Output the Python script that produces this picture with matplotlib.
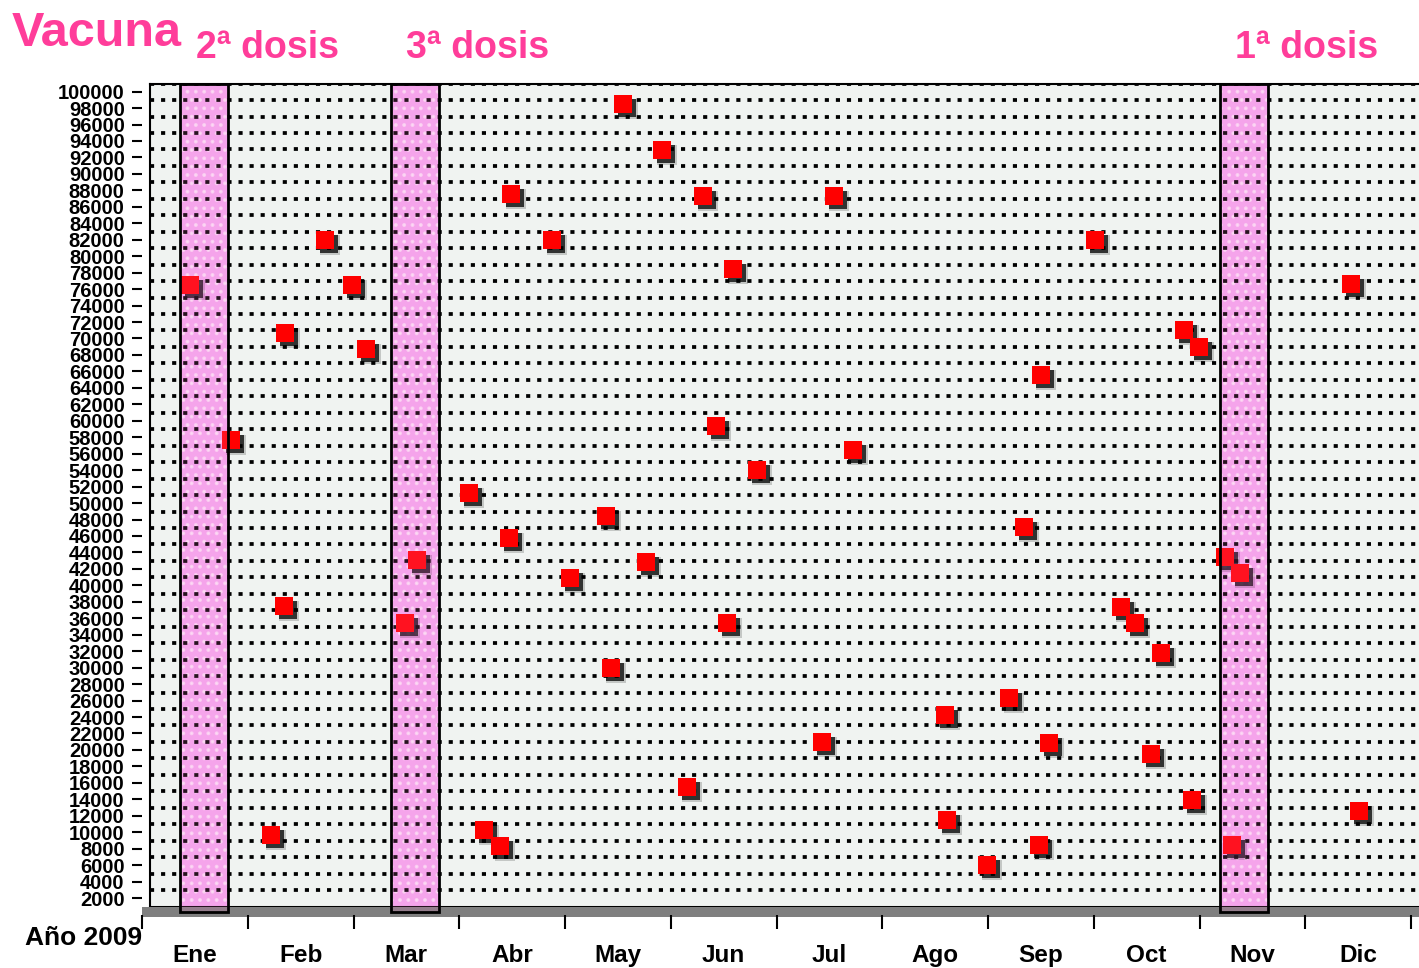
import matplotlib.pyplot as plt
import matplotlib.transforms as mtransforms
from matplotlib.patches import Rectangle

# datos
meses = ['Ene', 'Feb', 'Mar', 'Abr', 'May', 'Jun',
         'Jul', 'Ago', 'Sep', 'Oct', 'Nov', 'Dic']
dosis_nombres = ['2ª dosis', '3ª dosis', '1ª dosis']
dosis_mes = [0.51, 2.49, 10.29]      # momento de cada dosis (meses desde el 1 de enero)

x_mes = [0.38, 0.76, 1.27, 1.65, 1.90, 2.03, 1.26, 1.14, 2.51, 2.40,
         3.00, 3.40, 3.38, 3.14, 3.29, 3.78, 3.95, 4.29, 4.45, 4.67,
         4.34, 4.82, 5.20, 5.48, 5.32, 5.71, 5.43, 5.05, 6.43, 6.61,
         6.32, 7.48, 7.50, 7.87, 8.08, 8.22, 8.38, 8.46, 8.36, 8.89,
         9.13, 9.27, 9.51, 9.42, 9.73, 9.87, 9.80, 10.11, 10.25, 10.18,
         11.30, 11.37]
valores = [75500, 56700, 69700, 81000, 75500, 67700, 36500, 8700, 42100, 34400,
           50200, 86600, 44800, 9300, 7400, 81000, 39900, 47400, 97500, 41900,
           29000, 91900, 86400, 77500, 58400, 53000, 34400, 14500, 86400, 55500,
           20000, 23300, 10500, 5000, 25300, 46100, 64600, 19900, 7500, 81000,
           36400, 34400, 30800, 18500, 70000, 68000, 12900, 42500, 40500, 7500,
           75600, 11600]

yticks = list(range(2000, 100001, 2000))

rosa = '#ff3d9a'
W, H = 1419, 968
fig = plt.figure(figsize=(W / 100, H / 100), dpi=100)
fig.patch.set_facecolor('white')

# pared del fondo (ejes principales)
x0, x1, yb, yt = 150, 1419, 906.5, 83.6
pos = [x0 / W, 1 - yb / H, (x1 - x0) / W, (yb - yt) / H]
ax = fig.add_axes(pos)
ax.set_facecolor('#f0f3f1')
ax.set_xlim(0, (x1 - x0) / 106.3)
ax.set_ylim(0, 100000)
ax.set_yticks(yticks)
ax.set_xticks([])
ax.tick_params(left=False, labelleft=False, bottom=False, labelbottom=False)
ax.set_axisbelow(False)
ax.grid(axis='y', color='black', linewidth=2.7, linestyle=(0, (1.1, 1.85)))
ax.spines['right'].set_visible(False)
ax.spines['top'].set_linewidth(1.5)
ax.spines['left'].set_linewidth(1.5)
ax.spines['bottom'].set_linewidth(2.2)

# suelo gris
ax.add_patch(Rectangle((-8 / (x1 - x0), -10.5 / (yb - yt)), 1 + 8 / (x1 - x0), 10.5 / (yb - yt),
                       transform=ax.transAxes, facecolor='#7f7f7f', edgecolor='none',
                       clip_on=False, zorder=2.6))

# bandas de las dosis
ancho = 0.455
base = -700
alto = 100000 - base
plt.rcParams['hatch.linewidth'] = 1.6
ax.bar(dosis_mes, alto, bottom=base, width=ancho, color='#f4aef2', edgecolor='none',
       zorder=1, clip_on=False)
ax.bar(dosis_mes, alto, bottom=base, width=ancho, color='none',
       edgecolor=(1, 1, 1, 0.6), hatch='..', linewidth=0, zorder=1.1, clip_on=False)

# puntos con sombra
sombra = mtransforms.offset_copy(ax.transData, fig=fig, x=4, y=-4, units='dots')
sombra2 = mtransforms.offset_copy(ax.transData, fig=fig, x=5, y=-5, units='dots')
ax.plot(x_mes, valores, 's', ms=14.5, mew=0, color='black', alpha=0.18,
        transform=sombra2, zorder=2.8)
ax.plot(x_mes, valores, 's', ms=13, mew=0, color='black', alpha=0.75,
        transform=sombra, zorder=2.9)
ax.plot(x_mes, valores, 's', ms=13, mew=0, color='#ff0000', zorder=3)

# capa translúcida y contorno de las bandas
ax.bar(dosis_mes, alto, bottom=base, width=ancho, color=(1, 0.45, 0.8, 0.16),
       edgecolor='none', linewidth=0, zorder=4, clip_on=False)
ax.bar(dosis_mes, alto, bottom=base, width=ancho, color='none', edgecolor='black',
       linewidth=2, zorder=5, clip_on=False)

# ejes frontales (etiquetas desplazadas por la perspectiva)
ax2 = fig.add_axes([(x0 - 8) / W, 1 - (yb + 8) / H, (x1 - x0) / W, (yb - yt) / H])
ax2.set_zorder(ax.get_zorder() + 1)
ax2.patch.set_visible(False)
for s in ax2.spines.values():
    s.set_visible(False)
ax2.set_xlim(ax.get_xlim())
ax2.set_ylim(ax.get_ylim())
ax2.set_yticks(yticks)
ax2.set_yticklabels([str(v) for v in yticks], fontfamily='Liberation Sans',
                    fontweight='bold', fontsize=14.5)
ax2.tick_params(axis='y', length=7.5, width=1.5, pad=5)
ax2.set_xticks(range(13))
ax2.set_xticklabels([])
ax2.set_xticks([i + 0.5 for i in range(12)], minor=True)
ax2.set_xticklabels(meses, minor=True, fontfamily='Liberation Sans',
                    fontweight='bold', fontsize=17.5)
ax2.tick_params(axis='x', which='major', length=10, width=1.5)
ax2.tick_params(axis='x', which='minor', length=0, pad=21.5)

# textos
fig.text(12 / W, 1 - 46 / H, 'Vacuna', color=rosa, fontfamily='Liberation Sans',
         fontweight='bold', fontsize=35, va='baseline', ha='left')
tr = mtransforms.blended_transform_factory(ax.transData, fig.transFigure)
for m, nombre in zip(dosis_mes, dosis_nombres):
    ax.text(m - 0.08, 1 - 58 / H, nombre, transform=tr, color=rosa,
            fontfamily='Liberation Sans', fontweight='bold', fontsize=27,
            va='baseline', ha='left')
fig.text(25 / W, 1 - 945 / H, 'Año 2009', fontfamily='Liberation Sans',
         fontweight='bold', fontsize=19, va='baseline', ha='left')

fig.savefig('out.png', dpi=100)
